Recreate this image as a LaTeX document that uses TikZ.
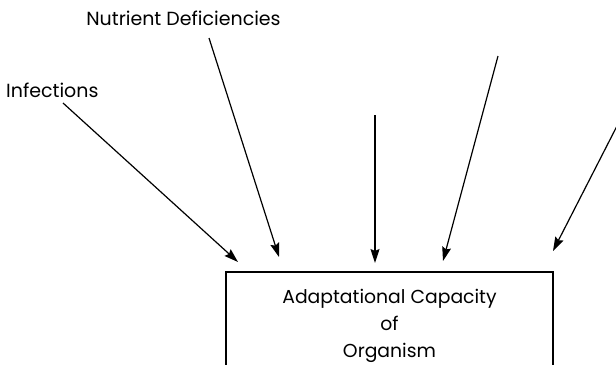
\documentclass[tikz,border=0pt]{standalone}
\usepackage{fontspec}
\setmainfont{Poppins}
\usetikzlibrary{arrows.meta}
\begin{document}
\begin{tikzpicture}[x=1bp,y=-1bp,
  lbl/.style={inner sep=0pt,font=\fontsize{19bp}{27bp}\selectfont},
  boxst/.style={draw,line width=1.8bp,minimum width=327bp,minimum height=108bp,inner sep=0pt,align=center,font=\fontsize{18.8bp}{27bp}\selectfont},
  arr/.style={line width=1.2bp,-{Stealth[length=14bp,width=9bp,inset=2bp]}}]
\useasboundingbox (0,0) rectangle (616,364);
\clip (0,0) rectangle (616,364);
\node[boxst,anchor=north] (box) at (389.5,271) {Adaptational Capacity\\of\\Organism};
\node[lbl,anchor=base] (nut) at (183.5,25.7) {Nutrient Deficiencies};
\node[lbl,anchor=base west] (inf) at (6,97) {Infections};
\coordinate (s1) at (63,103);
\coordinate (e1) at (238,262);
\coordinate (s2) at (209,38);
\coordinate (e2) at (279,257);
\coordinate (s3) at (375,115);
\coordinate (e3) at (375,263);
\coordinate (s4) at (498,56);
\coordinate (e4) at (443,261);
\coordinate (s5) at (618,124);
\coordinate (e5) at (553,251);
\draw[arr] (s1) -- (e1);
\draw[arr] (s2) -- (e2);
\draw[arr] (s3) -- (e3);
\draw[arr] (s4) -- (e4);
\draw[arr] (s5) -- (e5);
\end{tikzpicture}
\end{document}
